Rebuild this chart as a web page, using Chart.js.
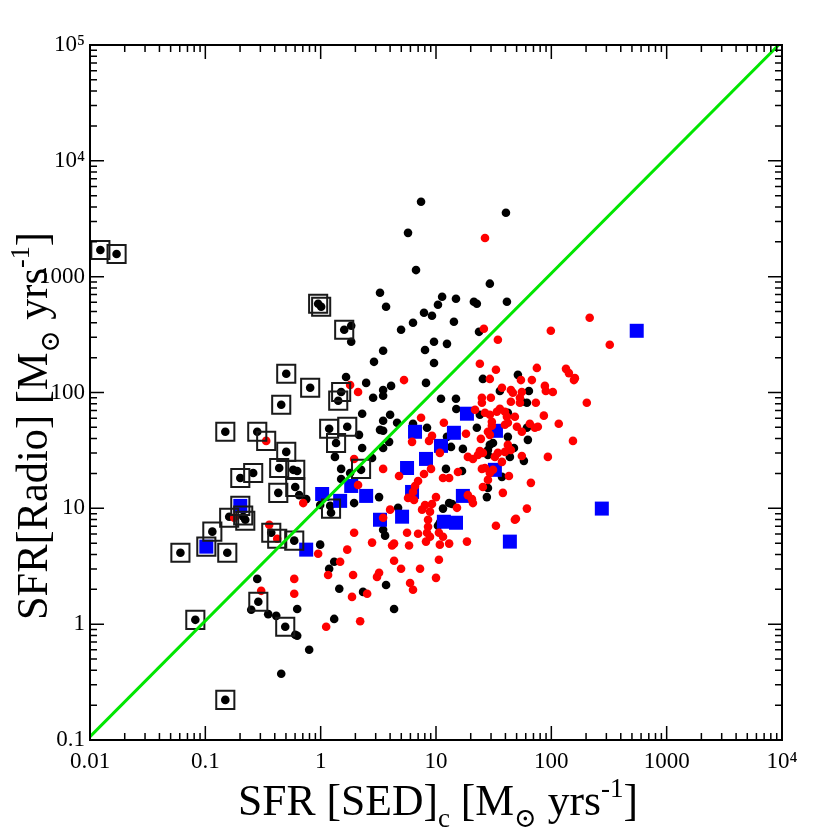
<!DOCTYPE html>
<html><head><meta charset="utf-8">
<script src="https://cdn.jsdelivr.net/npm/chart.js@4/dist/chart.umd.min.js"></script>
<style>html,body{margin:0;padding:0;background:#fff;}canvas{display:block;}</style>
</head><body>
<canvas id="c" width="830" height="830"></canvas>
<script>
const xTickValues = [0.01, 0.1, 1, 10, 100, 1000, 10000];
const xTickLabels = ['0.01', '0.1', '1', '10', '100', '1000', '10⁴'];
const yTickValues = [0.1, 1, 10, 100, 1000, 10000, 100000];
const yTickLabels = ['0.1', '1', '10', '100', '1000', '10⁴', '10⁵'];

// one-to-one line (green)
const fitLine = [[0.01, 0.107], [9350, 100000]];

// black dots
const blackPoints = [
[0.0123,1700],[0.0170,1570],[0.951,584],[1.01,550],[1.60,348],[0.503,145],[0.811,110],[0.455,78.4],[1.505,101],[1.42,85.0],
[0.149,45.8],[0.282,45.8],[0.503,30.7],[0.437,22.3],[0.578,21.5],[0.626,21.0],[1.185,48.6],[1.70,50.6],[1.36,36.7],[0.260,20.2],
[0.201,18.3],[0.602,15.3],[0.429,13.6],[1.21,10.5],[1.23,9.17],[0.161,8.47],[0.213,8.47],[0.222,7.97],[0.115,6.29],[0.0608,4.14],
[0.155,4.14],[0.373,6.16],[0.590,5.26],[0.288,1.56],[0.493,0.951],[0.0819,1.09],[0.149,0.222],[2.24,21.5],
[7.42,4430],[40.4,3560],[5.72,2390],[6.71,1140],[29.3,870],[3.27,727],[3.69,550],[11.3,671],[14.9,645],[10.4,572],
[21.3,608],[22.6,584],[41.2,608],[7.87,488],[9.23,460],[6.32,400],[14.3,408],[4.98,348],[23.6,334],[1.84,377],
[1.84,274],[9.61,274],[12.45,263],[3.48,229],[8.03,233],[2.90,184],[9.61,180],[1.66,136],[2.48,121],[4.08,114],
[3.48,105],[8.19,121],[2.85,90.0],[3.48,93.8],[25.5,131],[51.3,142],[35.8,103],[63.9,103],[11.05,88.3],[14.9,88.3],
[2.29,65.6],[3.48,57.0],[3.48,46.7],[4.00,64.3],[4.60,54.8],[3.27,47.6],[2.15,43.1],[3.92,37.5],[2.29,33.2],[1.33,27.8],
[3.48,33.2],[2.79,27.2],[1.505,21.9],[1.80,20.2],[1.505,17.9],[6.32,53.7],[8.36,49.6],[12.45,41.4],[15.0,72.0],[3.21,12.5],
[1.95,11.1],[4.69,10.1],[3.48,6.54],[11.5,9.95],[13.0,11.1],[10.8,7.51],[0.651,13.0],[0.749,12.0],[3.62,5.81],[55.5,83.3],
[61.4,81.6],[24.0,64.3],[22.6,49.6],[42.0,66.9],[42.0,41.4],[62.6,39.0],[61.4,49.6],[29.3,35.3],[31.2,36.7],[28.2,31.9],
[28.2,28.9],[47.4,33.2],[43.7,27.8],[57.8,25.7],[17.1,32.6],[13.5,33.9],[12.2,21.9],[16.8,21.0],[37.3,18.7],[28.2,15.0],
[27.6,12.5],[13.8,10.9],[0.990,4.86],[1.31,3.46],[1.185,3.01],[1.45,2.02],[2.33,1.90],[3.69,2.18],[4.33,1.35],[1.31,1.11],
[0.795,0.602],[10.4,7.08],[0.282,2.46],[0.250,1.33],[0.351,1.22],[0.412,1.18],[0.602,0.811],[0.626,0.795],[0.626,1.35],
[0.455,0.373],[0.990,10.7]
];

// red dots
const redPoints = [
[26.6,2160],[26.0,355],[34.4,285],[24.0,177],[33.1,157],[29.3,131],[74.9,163],[54.5,128],[67.8,128],[5.28,128],
[1.80,116],[2.11,101],[37.3,110],[44.6,105],[46.4,99.5],[55.5,101],[53.4,90.0],[25.0,90.0],[29.9,90.0],[7.42,60.6],
[11.7,54.8],[6.20,37.5],[9.23,42.2],[8.70,38.2],[10.8,30.1],[1.95,26.7],[3.48,21.9],[4.78,19.0],[7.87,19.8],[9.05,21.9],
[11.5,18.3],[13.0,18.3],[15.5,20.6],[6.99,17.2],[6.58,15.6],[6.32,13.85],[10.0,12.5],[9.23,10.9],[8.03,10.7],[7.57,9.74],
[8.87,9.36],[5.72,12.3],[6.45,11.8],[4.00,9.74],[3.48,8.3],[2.11,15.9],[0.706,11.1],[8.53,7.97],[8.53,6.94],[8.36,6.16],
[8.87,5.69],[10.6,6.16],[11.5,5.69],[5.61,6.16],[6.99,6.04],[1.95,6.16],[44.6,83.3],[53.4,81.6],[87.9,114],[89.6,103],
[103,101],[73.4,81.6],[157,128],[203,81.6],[25.0,81.6],[21.8,71.0],[26.6,66.9],[29.3,64.3],[33.7,68.2],[35.8,72.4],
[39.6,68.2],[41.2,61.8],[48.3,61.8],[86.1,63.1],[116,53.7],[154,38.2],[93.3,27.8],[66.5,16.6],[61.4,9.95],[49.3,8.14],
[33.1,7.08],[38.0,13.6],[42.9,19.0],[30.5,55.9],[30.5,51.6],[39.6,52.7],[42.0,54.8],[50.3,50.6],[55.5,45.8],[65.1,53.7],
[72.0,49.6],[76.4,50.6],[18.2,44.0],[24.5,39.8],[29.3,43.1],[28.2,45.8],[42.0,35.3],[39.6,30.7],[34.4,30.1],[32.4,27.8],
[37.3,25.2],[55.5,28.3],[44.6,31.9],[24.0,31.3],[23.1,28.9],[18.9,27.8],[20.9,26.7],[25.5,30.1],[25.0,21.9],[26.6,22.3],
[29.3,20.2],[31.2,21.5],[28.2,17.6],[25.5,15.3],[18.9,13.0],[20.5,12.0],[20.9,11.1],[15.2,10.1],[215,442],[99.0,341],
[321,258],[134,160],[142,147],[160,133],[8.19,5.16],[13.0,4.96],[10.8,4.86],[2.79,5.06],[4.16,4.77],[4.33,4.96],
[5.84,4.77],[18.55,5.16],[48.3,7.97],[0.951,4.06],[1.70,4.40],[1.475,3.46],[4.33,3.53],[10.6,3.60],[4.98,3.01],[7.27,3.01],
[1.16,2.66],[1.91,2.66],[3.21,2.78],[3.08,2.56],[10.0,2.51],[5.96,2.27],[6.32,1.98],[1.87,1.72],[2.53,1.83],[2.20,1.06],
[1.116,0.951],[0.305,1.94],[0.590,2.46],[0.590,1.83],[0.337,38.2],[0.358,7.22],[0.420,5.47],[0.178,8.3]
];

// blue filled squares
const bluePoints = [
[6.58,45.8],[14.3,44.9],[11.05,34.6],[8.19,26.7],[5.61,22.3],[6.20,13.85],[1.84,15.6],[1.03,13.3],[1.475,11.6],[2.48,12.8],
[3.27,7.97],[5.08,8.47],[11.7,7.66],[14.9,7.51],[18.55,65.6],[33.1,46.7],[32.4,21.5],[17.1,12.8],[274,9.95],[550,341],
[43.7,5.16],[0.749,4.40],[0.201,10.5],[0.102,4.67]
];

// open squares
const boxPoints = [
[0.0123,1700],[0.0170,1570],[0.951,584],[1.01,550],[1.60,348],[0.503,145],[0.811,110],[0.455,78.4],[1.505,101],[1.42,85.0],
[0.149,45.8],[0.282,45.8],[0.337,38.2],[0.503,30.7],[0.437,22.3],[0.602,21.5],[1.185,48.6],[1.70,50.6],[1.36,36.7],[0.260,20.2],
[0.201,18.3],[0.602,15.3],[0.429,13.6],[1.23,9.95],[0.201,10.5],[0.161,8.3],[0.213,8.66],[0.222,7.81],[0.115,6.29],[0.102,4.67],
[0.0608,4.14],[0.155,4.14],[0.373,6.16],[0.420,5.47],[0.590,5.26],[0.288,1.56],[0.493,0.951],[0.0819,1.09],[0.149,0.222],[2.24,21.9]
];

const xTitleParts = [{t:'SFR [SED]'},{t:'c',s:'sub'},{t:' [M'},{t:'⊙',s:'sub'},{t:' yrs'},{t:'-1',s:'sup'},{t:']'}];
const yTitleParts = [{t:'SFR[Radio] [M'},{t:'⊙',s:'sub'},{t:' yrs'},{t:'-1',s:'sup'},{t:']'}];

const FAMILY = "'Liberation Serif', 'DejaVu Serif', serif";
const toXY = a => a.map(([x, y]) => ({x, y}));

function richWidth(ctx, parts, size) {
  let w = 0;
  for (const p of parts) {
    const s = p.s ? size * 0.62 : size;
    ctx.font = s + 'px ' + FAMILY;
    w += ctx.measureText(p.t).width;
  }
  return w;
}
function drawRich(ctx, parts, size, cx, baseY, targetW) {
  const w = richWidth(ctx, parts, size);
  const sx = targetW / w;
  ctx.save();
  ctx.translate(cx - targetW / 2, baseY);
  ctx.scale(sx, 1);
  let x = 0;
  ctx.fillStyle = '#000';
  ctx.textBaseline = 'alphabetic';
  ctx.textAlign = 'left';
  for (const p of parts) {
    const s = p.s ? size * 0.62 : size;
    ctx.font = s + 'px ' + FAMILY;
    const dy = p.s === 'sub' ? size * 0.28 : (p.s === 'sup' ? -size * 0.42 : 0);
    ctx.fillText(p.t, x, dy);
    x += ctx.measureText(p.t).width;
  }
  ctx.restore();
}

const framePlugin = {
  id: 'frame',
  afterDraw(chart) {
    const {ctx, chartArea: a, scales: {x, y}} = chart;
    ctx.save();
    ctx.strokeStyle = '#000';
    ctx.lineWidth = 1.5;
    ctx.beginPath();
    const major = 14, minor = 7;
    for (const v of xTickValues) {
      for (let m = 1; m <= 9; m++) {
        const val = v * m;
        if (val > x.max * 1.0001) break;
        const px = x.getPixelForValue(val);
        const L = m === 1 ? major : minor;
        ctx.moveTo(px, a.bottom); ctx.lineTo(px, a.bottom - L);
        ctx.moveTo(px, a.top); ctx.lineTo(px, a.top + L);
      }
    }
    for (const v of yTickValues) {
      for (let m = 1; m <= 9; m++) {
        const val = v * m;
        if (val > y.max * 1.0001) break;
        const py = y.getPixelForValue(val);
        const L = m === 1 ? major : minor;
        ctx.moveTo(a.left, py); ctx.lineTo(a.left + L, py);
        ctx.moveTo(a.right, py); ctx.lineTo(a.right - L, py);
      }
    }
    ctx.stroke();
    ctx.lineWidth = 2;
    ctx.strokeRect(a.left, a.top, a.right - a.left, a.bottom - a.top);
    ctx.restore();

    drawRich(ctx, xTitleParts, 44, 438, 815, 400);
    ctx.save();
    ctx.translate(47, 426);
    ctx.rotate(-Math.PI / 2);
    drawRich(ctx, yTitleParts, 44, 0, 0, 388);
    ctx.restore();
  }
};

new Chart(document.getElementById('c'), {
  type: 'scatter',
  data: {
    datasets: [
      {label: 'fit', data: toXY(fitLine), showLine: true, borderColor: 'rgb(0,230,0)', borderWidth: 3, pointRadius: 0, fill: false, order: 0},
      {label: 'boxed', data: toXY(boxPoints), pointStyle: 'rect', pointRadius: 12.8, backgroundColor: 'rgba(0,0,0,0)', borderColor: '#1a1a1a', borderWidth: 2, order: 1},
      {label: 'red', data: toXY(redPoints), pointStyle: 'circle', pointRadius: 4.3, backgroundColor: '#ff0000', borderWidth: 0, order: 2},
      {label: 'blue', data: toXY(bluePoints), pointStyle: 'rect', pointRadius: 9.9, backgroundColor: '#0000ff', borderWidth: 0, order: 3},
      {label: 'black', data: toXY(blackPoints), pointStyle: 'circle', pointRadius: 4.3, backgroundColor: '#000000', borderWidth: 0, order: 4}
    ]
  },
  options: {
    responsive: false,
    devicePixelRatio: 1,
    animation: false,
    events: [],
    layout: {padding: {top: 45, right: 48, left: 0, bottom: 0}},
    plugins: {legend: {display: false}, tooltip: {enabled: false}, title: {display: false}},
    scales: {
      x: {
        type: 'logarithmic', min: 0.01, max: 10000, position: 'bottom',
        afterFit: s => { s.height = 90; },
        afterBuildTicks: s => { s.ticks = xTickValues.map(v => ({value: v})); },
        grid: {display: false, drawTicks: false},
        border: {display: false},
        ticks: {
          autoSkip: false, maxRotation: 0, minRotation: 0, padding: 8, color: '#000',
          font: {family: FAMILY, size: 23},
          callback: v => xTickLabels[xTickValues.indexOf(v)] ?? ''
        }
      },
      y: {
        type: 'logarithmic', min: 0.1, max: 100000, position: 'left',
        afterFit: s => { s.width = 90; },
        afterBuildTicks: s => { s.ticks = yTickValues.map(v => ({value: v})); },
        grid: {display: false, drawTicks: false},
        border: {display: false},
        ticks: {
          autoSkip: false, padding: 5, color: '#000',
          font: {family: FAMILY, size: 23},
          callback: v => yTickLabels[yTickValues.indexOf(v)] ?? ''
        }
      }
    }
  },
  plugins: [framePlugin]
});
</script>
</body></html>
